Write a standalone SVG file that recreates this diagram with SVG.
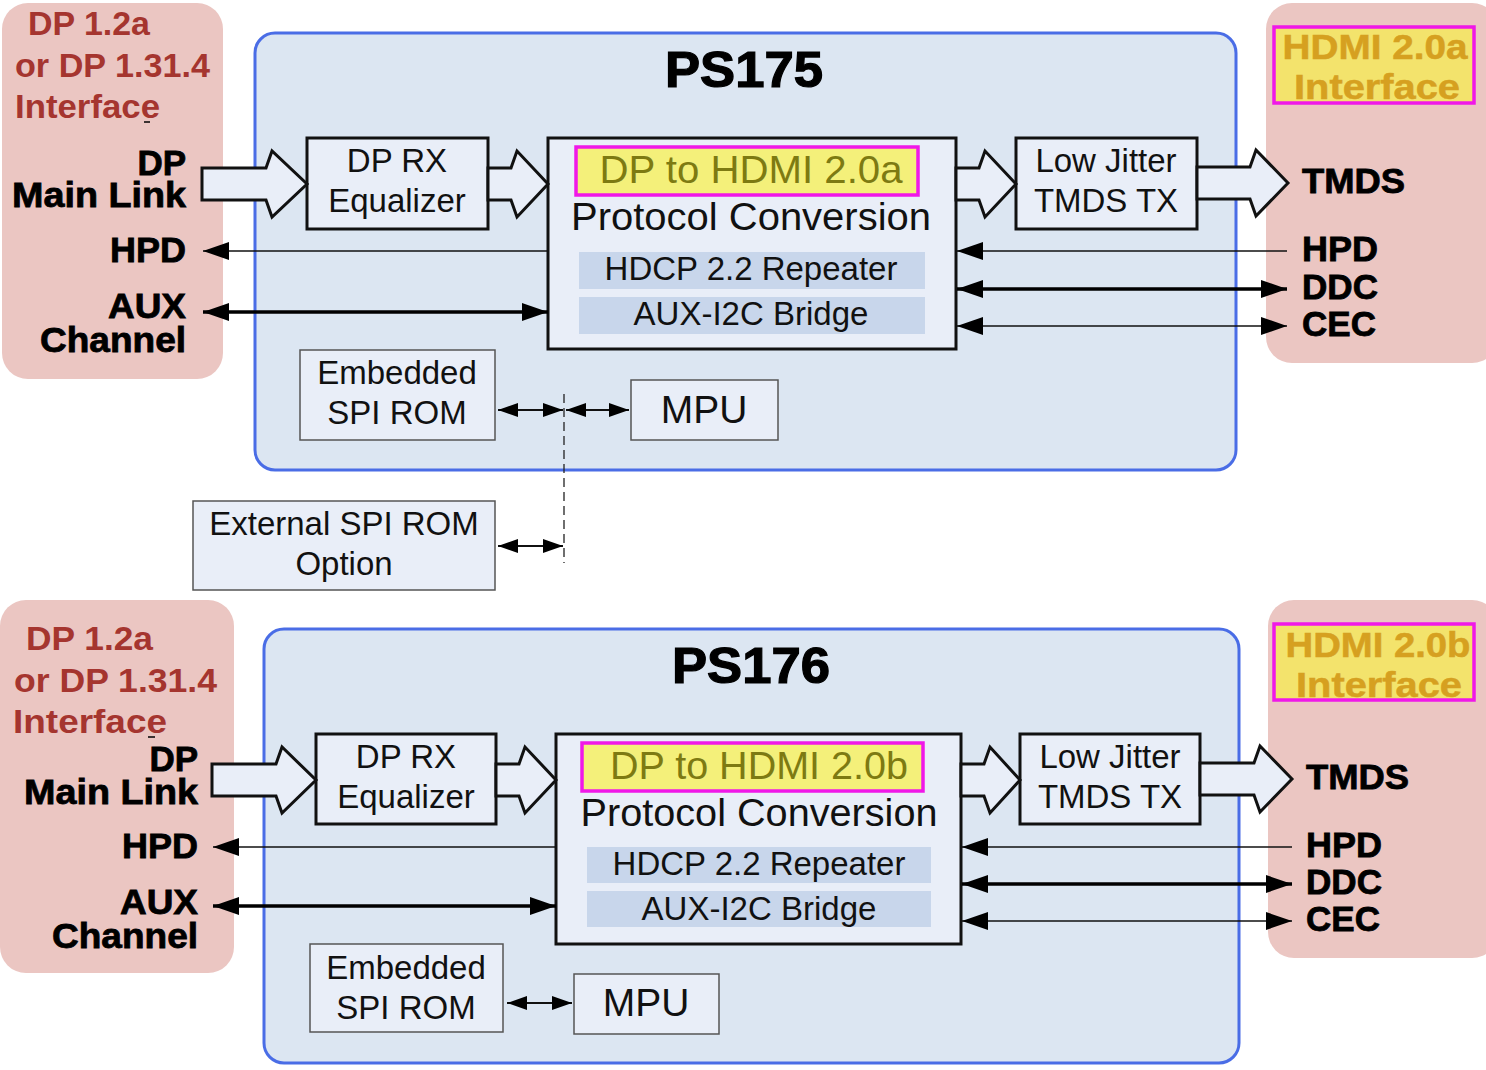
<svg xmlns="http://www.w3.org/2000/svg" width="1486" height="1070" viewBox="0 0 1486 1070">
<defs>
<style>
text{font-family:"Liberation Sans",Arial,sans-serif}
.pink{fill:#ebc6c2}
.chip{fill:#dce6f2;stroke:#4a6de6;stroke-width:3}
.box{fill:#e9eef8;stroke:#111;stroke-width:3}
.sbox{fill:#e9eef8;stroke:#555;stroke-width:1.5}
.band{fill:#c8d6eb}
.hl{fill:#f4f07a;stroke:#f018e8;stroke-width:3.5}
.hl2{fill:#f3e36c;stroke:#f018e8;stroke-width:3.5}
.t{font-size:33px;fill:#111;text-anchor:middle}
.tl{font-size:39px;fill:#111;text-anchor:middle}
.olive{font-size:39px;fill:#7d7a12;text-anchor:middle}
.lab{font-size:35px;font-weight:bold;fill:#000;stroke:#000;stroke-width:0.8;text-anchor:end}
.labr{font-size:35px;font-weight:bold;fill:#000;stroke:#000;stroke-width:0.8}
.red{font-size:33px;font-weight:bold;fill:#a5352f}
.gold{font-size:35px;font-weight:bold;fill:#d6a020;stroke:#d6a020;stroke-width:0.5;text-anchor:middle}
.title{font-size:50px;font-weight:bold;fill:#000;stroke:#000;stroke-width:1.2;text-anchor:middle}
.big{fill:#e9eef8;stroke:#111;stroke-width:3;stroke-linejoin:miter}
.thin{stroke:#111;stroke-width:1.5;fill:none}
.thick{stroke:#000;stroke-width:3.5;fill:none}
.spi{stroke:#111;stroke-width:2;fill:none}
.dash{stroke:#222;stroke-width:1.3;stroke-dasharray:9,5;fill:none}
</style>
<marker id="ah" markerWidth="26" markerHeight="18" refX="26" refY="9" orient="auto-start-reverse" markerUnits="userSpaceOnUse"><path d="M0,0 L26,9 L0,18 z" fill="#000"/></marker>
<marker id="as" markerWidth="20" markerHeight="14" refX="20" refY="7" orient="auto-start-reverse" markerUnits="userSpaceOnUse"><path d="M0,0 L20,7 L0,14 z" fill="#000"/></marker>
</defs>

<!-- ===== TOP: PS175 ===== -->
<g id="dp-interface-top">
<rect class="pink" x="2" y="3" width="221" height="376" rx="26"/>
<text class="red" x="28" y="35" textLength="122" lengthAdjust="spacingAndGlyphs">DP 1.2a</text>
<text class="red" x="15" y="77" textLength="195" lengthAdjust="spacingAndGlyphs">or DP 1.31.4</text>
<text class="red" x="15" y="118" textLength="145" lengthAdjust="spacingAndGlyphs">Interface</text>
<line x1="144" y1="122" x2="150" y2="122" stroke="#000" stroke-width="1.5"/>
<text class="lab" x="186" y="175">DP</text>
<text class="lab" x="186" y="207" textLength="174" lengthAdjust="spacingAndGlyphs">Main Link</text>
<text class="lab" x="186" y="262" textLength="76" lengthAdjust="spacingAndGlyphs">HPD</text>
<text class="lab" x="186" y="318" textLength="78" lengthAdjust="spacingAndGlyphs">AUX</text>
<text class="lab" x="186" y="352" textLength="146" lengthAdjust="spacingAndGlyphs">Channel</text>
</g>

<g id="hdmi-interface-top">
<rect class="pink" x="1266" y="3" width="232" height="360" rx="26"/>
<rect class="hl2" x="1274" y="27" width="200" height="76"/>
<text class="gold" x="1375" y="59" textLength="185" lengthAdjust="spacingAndGlyphs">HDMI 2.0a</text>
<text class="gold" x="1377" y="99" textLength="166" lengthAdjust="spacingAndGlyphs">Interface</text>
<text class="labr" x="1302" y="193" textLength="103" lengthAdjust="spacingAndGlyphs">TMDS</text>
<text class="labr" x="1302" y="261" textLength="76" lengthAdjust="spacingAndGlyphs">HPD</text>
<text class="labr" x="1302" y="299" textLength="76" lengthAdjust="spacingAndGlyphs">DDC</text>
<text class="labr" x="1302" y="336" textLength="74" lengthAdjust="spacingAndGlyphs">CEC</text>
</g>

<g id="ps175">
<rect class="chip" x="255" y="33" width="981" height="437" rx="20"/>
<text class="title" x="744" y="87" textLength="158" lengthAdjust="spacingAndGlyphs">PS175</text>
</g>

<g id="dp-rx-top">
<rect class="box" x="307" y="138" width="181" height="91"/>
<text class="t" x="397" y="172">DP RX</text>
<text class="t" x="397" y="212">Equalizer</text>
</g>

<g id="protocol-top">
<rect class="box" x="548" y="138" width="408" height="211"/>
<rect class="hl" x="576" y="147" width="342" height="48"/>
<text class="olive" x="751" y="183" textLength="303" lengthAdjust="spacingAndGlyphs">DP to HDMI 2.0a</text>
<text class="tl" x="751" y="230" textLength="360" lengthAdjust="spacingAndGlyphs">Protocol Conversion</text>
<rect class="band" x="579" y="252" width="346" height="37"/>
<text class="t" x="751" y="280">HDCP 2.2 Repeater</text>
<rect class="band" x="579" y="297" width="346" height="37"/>
<text class="t" x="751" y="325">AUX-I2C Bridge</text>
</g>

<g id="tmds-tx-top">
<rect class="box" x="1016" y="138" width="181" height="91"/>
<text class="t" x="1106" y="172">Low Jitter</text>
<text class="t" x="1106" y="212">TMDS TX</text>
</g>

<g id="spi-rom-top">
<rect class="sbox" x="300" y="350" width="195" height="90"/>
<text class="t" x="397" y="384">Embedded</text>
<text class="t" x="397" y="424">SPI ROM</text>
</g>

<g id="mpu-top">
<rect class="sbox" x="631" y="380" width="147" height="60"/>
<text class="tl" x="704" y="423">MPU</text>
</g>

<g id="ext-spi-rom">
<rect class="sbox" x="193" y="501" width="302" height="89"/>
<text class="t" x="344" y="535">External SPI ROM</text>
<text class="t" x="344" y="575">Option</text>
</g>

<!-- ===== BOTTOM: PS176 ===== -->
<g id="dp-interface-bottom">
<rect class="pink" x="0" y="600" width="234" height="373" rx="26"/>
<text class="red" x="26" y="650" textLength="127" lengthAdjust="spacingAndGlyphs">DP 1.2a</text>
<text class="red" x="14" y="692" textLength="203" lengthAdjust="spacingAndGlyphs">or DP 1.31.4</text>
<text class="red" x="13" y="733" textLength="154" lengthAdjust="spacingAndGlyphs">Interface</text>
<line x1="148" y1="737" x2="155" y2="737" stroke="#000" stroke-width="1.5"/>
<text class="lab" x="198" y="771">DP</text>
<text class="lab" x="198" y="804" textLength="174" lengthAdjust="spacingAndGlyphs">Main Link</text>
<text class="lab" x="198" y="858" textLength="76" lengthAdjust="spacingAndGlyphs">HPD</text>
<text class="lab" x="198" y="914" textLength="78" lengthAdjust="spacingAndGlyphs">AUX</text>
<text class="lab" x="198" y="948" textLength="146" lengthAdjust="spacingAndGlyphs">Channel</text>
</g>

<g id="hdmi-interface-bottom">
<rect class="pink" x="1268" y="600" width="230" height="358" rx="26"/>
<rect class="hl2" x="1274" y="624" width="200" height="76"/>
<text class="gold" x="1378" y="657" textLength="185" lengthAdjust="spacingAndGlyphs">HDMI 2.0b</text>
<text class="gold" x="1379" y="697" textLength="166" lengthAdjust="spacingAndGlyphs">Interface</text>
<text class="labr" x="1306" y="789" textLength="103" lengthAdjust="spacingAndGlyphs">TMDS</text>
<text class="labr" x="1306" y="857" textLength="76" lengthAdjust="spacingAndGlyphs">HPD</text>
<text class="labr" x="1306" y="894" textLength="76" lengthAdjust="spacingAndGlyphs">DDC</text>
<text class="labr" x="1306" y="931" textLength="74" lengthAdjust="spacingAndGlyphs">CEC</text>
</g>

<g id="ps176">
<rect class="chip" x="264" y="629" width="975" height="434" rx="20"/>
<text class="title" x="751" y="683" textLength="158" lengthAdjust="spacingAndGlyphs">PS176</text>
</g>

<g id="dp-rx-bottom">
<rect class="box" x="316" y="734" width="180" height="90"/>
<text class="t" x="406" y="768">DP RX</text>
<text class="t" x="406" y="808">Equalizer</text>
</g>

<g id="protocol-bottom">
<rect class="box" x="556" y="734" width="405" height="210"/>
<rect class="hl" x="582" y="743" width="341" height="48"/>
<text class="olive" x="759" y="779" textLength="298" lengthAdjust="spacingAndGlyphs">DP to HDMI 2.0b</text>
<text class="tl" x="759" y="826" textLength="357" lengthAdjust="spacingAndGlyphs">Protocol Conversion</text>
<rect class="band" x="587" y="847" width="344" height="36"/>
<text class="t" x="759" y="875">HDCP 2.2 Repeater</text>
<rect class="band" x="587" y="891" width="344" height="36"/>
<text class="t" x="759" y="920">AUX-I2C Bridge</text>
</g>

<g id="tmds-tx-bottom">
<rect class="box" x="1020" y="734" width="180" height="90"/>
<text class="t" x="1110" y="768">Low Jitter</text>
<text class="t" x="1110" y="808">TMDS TX</text>
</g>

<g id="spi-rom-bottom">
<rect class="sbox" x="310" y="944" width="193" height="88"/>
<text class="t" x="406" y="979">Embedded</text>
<text class="t" x="406" y="1019">SPI ROM</text>
</g>

<g id="mpu-bottom">
<rect class="sbox" x="574" y="974" width="145" height="60"/>
<text class="tl" x="646" y="1016">MPU</text>
</g>

<!-- ===== CONNECTORS ===== -->
<g id="connectors">
<path class="big" d="M202,168 L266,168 L272,151 L307,184 L272,217 L266,200 L202,200 Z"/>
<path class="big" d="M488,168 L511,168 L517,151 L548,184 L517,217 L511,200 L488,200 Z"/>
<path class="big" d="M956,168 L979,168 L985,151 L1016,184 L985,217 L979,200 L956,200 Z"/>
<path class="big" d="M1197,167 L1250,167 L1256,150 L1288,183 L1256,216 L1250,199 L1197,199 Z"/>
<line class="thin" x1="548" y1="251" x2="203" y2="251" marker-end="url(#ah)"/>
<line class="thick" x1="203" y1="312" x2="548" y2="312" marker-start="url(#ah)" marker-end="url(#ah)"/>
<line class="thin" x1="1287" y1="251" x2="957" y2="251" marker-end="url(#ah)"/>
<line class="thick" x1="957" y1="289" x2="1287" y2="289" marker-start="url(#ah)" marker-end="url(#ah)"/>
<line class="thin" x1="957" y1="326" x2="1287" y2="326" marker-start="url(#ah)" marker-end="url(#ah)"/>
<line class="dash" x1="564" y1="394" x2="564" y2="563"/>
<line class="spi" x1="498" y1="410" x2="563" y2="410" marker-start="url(#as)" marker-end="url(#as)"/>
<line class="spi" x1="566" y1="410" x2="629" y2="410" marker-start="url(#as)" marker-end="url(#as)"/>
<line class="spi" x1="498" y1="546" x2="563" y2="546" marker-start="url(#as)" marker-end="url(#as)"/>

<path class="big" d="M212,764 L276,764 L282,747 L316,780 L282,813 L276,796 L212,796 Z"/>
<path class="big" d="M496,764 L519,764 L525,747 L556,780 L525,813 L519,796 L496,796 Z"/>
<path class="big" d="M961,764 L984,764 L990,747 L1020,780 L990,813 L984,796 L961,796 Z"/>
<path class="big" d="M1200,763 L1254,763 L1260,746 L1292,779 L1260,812 L1254,795 L1200,795 Z"/>
<line class="thin" x1="556" y1="847" x2="213" y2="847" marker-end="url(#ah)"/>
<line class="thick" x1="213" y1="906" x2="556" y2="906" marker-start="url(#ah)" marker-end="url(#ah)"/>
<line class="thin" x1="1292" y1="847" x2="962" y2="847" marker-end="url(#ah)"/>
<line class="thick" x1="962" y1="884" x2="1292" y2="884" marker-start="url(#ah)" marker-end="url(#ah)"/>
<line class="thin" x1="962" y1="921" x2="1292" y2="921" marker-start="url(#ah)" marker-end="url(#ah)"/>
<line class="spi" x1="507" y1="1003" x2="572" y2="1003" marker-start="url(#as)" marker-end="url(#as)"/>
</g>
</svg>
